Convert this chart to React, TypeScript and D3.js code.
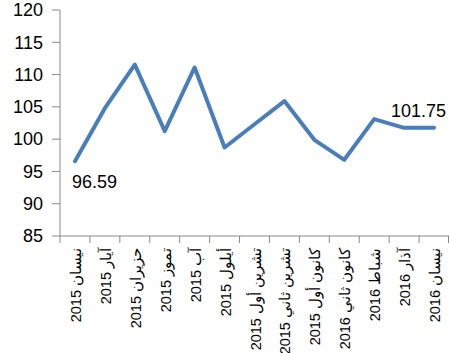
import React from "react";
import * as d3 from "d3";

const categories: string[] = [
  "نيسان 2015",
  "آيار 2015",
  "حزيران 2015",
  "تموز 2015",
  "آب 2015",
  "أيلول 2015",
  "تشرين أول 2015",
  "تشرين ثاني 2015",
  "كانون أول 2015",
  "كانون ثاني 2016",
  "شباط 2016",
  "آذار 2016",
  "نيسان 2016",
];
const values: number[] = [96.59, 104.8, 111.55, 101.25, 111.1, 98.7, 102.3, 105.9, 99.9, 96.8, 103.1, 101.75, 101.75];
const yTicks: number[] = [85, 90, 95, 100, 105, 110, 115, 120];

const W = 449;
const H = 353;

export default function App() {
  const x = d3.scaleBand<string>().domain(categories).range([60, 449]);
  const y = d3.scaleLinear().domain([85, 120]).range([236, 10]);
  const cx = (i: number) => (x(categories[i]) as number) + x.bandwidth() / 2;
  const line = d3
    .line<number>()
    .x((_, i) => cx(i))
    .y((d) => y(d));
  const axisColor = "#888888";
  const font = "Arial, 'Liberation Sans', sans-serif";
  const last = values.length - 1;
  return (
    <svg width={W} height={H} style={{ position: "absolute", left: 0, top: 0, background: "#fff" }} fontFamily={font}>
      {/* y axis */}
      <line x1={60} x2={60} y1={y(120)} y2={y(85)} stroke={axisColor} strokeWidth={1} />
      {yTicks.map((t) => (
        <g key={t}>
          <line x1={52} x2={60} y1={y(t)} y2={y(t)} stroke={axisColor} strokeWidth={1} />
          <text x={43} y={y(t)} dy="0.35em" textAnchor="end" fontSize={18} fill="#000">
            {t}
          </text>
        </g>
      ))}
      {/* x axis */}
      <line x1={60} x2={449} y1={y(85)} y2={y(85)} stroke={axisColor} strokeWidth={1} />
      {categories.map((c, i) => {
        const x0 = x(c) as number;
        return <line key={"t" + i} x1={x0} x2={x0} y1={y(85)} y2={y(85) + 7} stroke={axisColor} strokeWidth={1} />;
      })}
      <line x1={448.5} x2={448.5} y1={y(85)} y2={y(85) + 7} stroke={axisColor} strokeWidth={1} />
      {categories.map((c, i) => (
        <text
          key={"l" + i}
          transform={`translate(${cx(i) + 6},${y(85) + 12}) rotate(-90)`}
          textAnchor="start"
          fontSize={14.5}
          fill="#000"
          direction="rtl"
        >
          {c}
        </text>
      ))}
      {/* line */}
      <path d={line(values) || ""} fill="none" stroke="#4A7EBB" strokeWidth={4} strokeLinejoin="round" strokeLinecap="round" />
      {/* data labels */}
      <text x={72} y={188} fontSize={18} fill="#000">
        {values[0].toFixed(2)}
      </text>
      <text x={391} y={117} fontSize={18} fill="#000">
        {values[last].toFixed(2)}
      </text>
    </svg>
  );
}
